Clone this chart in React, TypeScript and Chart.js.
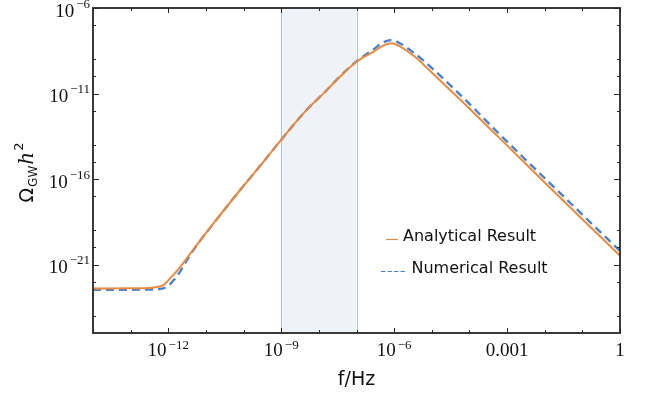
import { useEffect, useRef } from 'react';
import { Chart, registerables } from 'chart.js';

Chart.register(...registerables);

// ---- data (log10 values) ----
const seriesLabels = ['Analytical Result', 'Numerical Result'];

const analyticalLogF = [-14, -13, -12.5, -12.35, -12.13, -11.95, -11.68, -11.38, -10.8, -10.09, -9.65, -8.99, -8.41, -7.79, -7.44, -7.0, -6.55, -6.28, -6.06, -5.84, -5.4, -5.13, -4.2, -3.19, -2, -1, 0];
const analyticalLogOmega = [-22.4, -22.39, -22.37, -22.33, -22.2, -21.81, -21.13, -20.25, -18.59, -16.64, -15.47, -13.68, -12.16, -10.8, -10.02, -9.14, -8.56, -8.18, -8.06, -8.26, -8.94, -9.5, -11.45, -13.62, -16.2, -18.35, -20.48];

const numericalLogF = [-14, -13, -12.5, -12.31, -12.04, -11.78, -11.42, -11.2, -10.8, -10.09, -9.65, -8.99, -8.41, -7.79, -7.44, -7.0, -6.55, -6.28, -6.06, -5.84, -5.4, -5.13, -4.2, -3.19, -2, -1, 0];
const numericalLogOmega = [-22.47, -22.47, -22.46, -22.45, -22.3, -21.71, -20.44, -19.75, -18.6, -16.64, -15.47, -13.68, -12.16, -10.8, -10.0, -9.12, -8.42, -8.0, -7.87, -8.08, -8.75, -9.25, -11.17, -13.4, -15.95, -18.08, -20.2];

const xRange = [1e-14, 1];
const yRange = [1e-25, 1e-6];
const xTickValues = [1e-12, 1e-9, 1e-6, 1e-3, 1];
const xTickLabels = ['10^\u221212', '10^\u22129', '10^\u22126', '0.001', '1'];
const xMinorValues = [1e-14, 1e-13, 1e-11, 1e-10, 1e-8, 1e-7, 1e-5, 1e-4, 1e-2, 1e-1];
const yTickValues = [1e-6, 1e-11, 1e-16, 1e-21];
const yTickLabels = ['10^\u22126', '10^\u221211', '10^\u221216', '10^\u221221'];
const yMinorValues = [1e-7, 1e-9, 1e-10, 1e-12, 1e-14, 1e-15, 1e-17, 1e-19, 1e-20, 1e-22, 1e-24];
const bandRange = [1e-9, 1e-7];

const ORANGE = '#E98A3F';
const BLUE = '#4B82C8';

function toPoints(lf: number[], lo: number[]) {
  return lf.map((v, i) => ({ x: Math.pow(10, v), y: Math.pow(10, lo[i]) }));
}

function drawPower(ctx: CanvasRenderingContext2D, label: string, x: number, y: number, align: 'center' | 'right', expShift: number) {
  const parts = label.split('^');
  const base = parts[0];
  const exp = parts[1];
  const baseFont = '19px "Liberation Serif", serif';
  const expFont = '13px "Liberation Serif", serif';
  ctx.font = baseFont;
  const wb = ctx.measureText(base).width;
  let we = 0;
  if (exp) {
    ctx.font = expFont;
    we = ctx.measureText(exp).width + 2;
  }
  const total = wb + we;
  const sx = align === 'center' ? x - total / 2 : x - total;
  ctx.textAlign = 'left';
  ctx.textBaseline = 'alphabetic';
  ctx.font = baseFont;
  ctx.fillText(base, sx, y);
  if (exp) {
    ctx.font = expFont;
    ctx.fillText(exp, sx + wb + 2, y - expShift);
  }
}

const framePlugin = {
  id: 'framePlugin',
  beforeDatasetsDraw(chart: any) {
    const { ctx, chartArea, scales } = chart;
    const x0 = scales.x.getPixelForValue(bandRange[0]);
    const x1 = scales.x.getPixelForValue(bandRange[1]);
    ctx.save();
    ctx.fillStyle = '#EFF3F8';
    ctx.fillRect(x0, chartArea.top, x1 - x0, chartArea.bottom - chartArea.top);
    ctx.strokeStyle = '#AFC3DF';
    ctx.lineWidth = 1;
    ctx.beginPath();
    ctx.moveTo(Math.round(x0) + 0.5, chartArea.top);
    ctx.lineTo(Math.round(x0) + 0.5, chartArea.bottom);
    ctx.moveTo(Math.round(x1) + 0.5, chartArea.top);
    ctx.lineTo(Math.round(x1) + 0.5, chartArea.bottom);
    ctx.stroke();
    ctx.restore();
  },
  afterDraw(chart: any) {
    const { ctx, chartArea, scales } = chart;
    const { left, right, top, bottom } = chartArea;
    const xs = scales.x;
    const ys = scales.y;
    ctx.save();
    // frame
    ctx.strokeStyle = '#262626';
    ctx.lineWidth = 1.8;
    ctx.strokeRect(left, top, right - left, bottom - top);
    // ticks
    ctx.lineWidth = 1;
    ctx.beginPath();
    const xTick = (v: number, len: number) => {
      const p = Math.round(xs.getPixelForValue(v)) + 0.5;
      ctx.moveTo(p, bottom);
      ctx.lineTo(p, bottom - len);
      ctx.moveTo(p, top);
      ctx.lineTo(p, top + len);
    };
    const yTick = (v: number, len: number) => {
      const p = Math.round(ys.getPixelForValue(v)) + 0.5;
      ctx.moveTo(left, p);
      ctx.lineTo(left + len, p);
      ctx.moveTo(right, p);
      ctx.lineTo(right - len, p);
    };
    xTickValues.forEach((v) => xTick(v, 5));
    xMinorValues.forEach((v) => xTick(v, 3));
    yTickValues.forEach((v) => yTick(v, 6));
    yMinorValues.forEach((v) => yTick(v, 3));
    ctx.stroke();

    // tick labels
    ctx.fillStyle = '#111';
    xTickValues.forEach((v, i) => {
      drawPower(ctx, xTickLabels[i], xs.getPixelForValue(v), bottom + 23, 'center', 7);
    });
    yTickValues.forEach((v, i) => {
      drawPower(ctx, yTickLabels[i], left - 3, ys.getPixelForValue(v) + 8.5, 'right', 9);
    });

    // x title
    ctx.font = '19px "DejaVu Sans", sans-serif';
    ctx.textAlign = 'center';
    ctx.textBaseline = 'alphabetic';
    ctx.fillText('f/Hz', (left + right) / 2, 385);

    // y title (rotated)
    ctx.save();
    ctx.translate(33, 172);
    ctx.rotate(-Math.PI / 2);
    const partsY = [
      { t: '\u03A9', f: '19px "DejaVu Sans", sans-serif', dy: 0 },
      { t: 'GW', f: '12px "DejaVu Sans", sans-serif', dy: 4 },
      { t: 'h', f: 'italic 20px "DejaVu Serif", serif', dy: 0 },
      { t: '2', f: '13px "DejaVu Sans", sans-serif', dy: -10 },
    ];
    let tw = 0;
    partsY.forEach((p) => { ctx.font = p.f; tw += ctx.measureText(p.t).width + 1; });
    let cx = -tw / 2;
    ctx.textAlign = 'left';
    partsY.forEach((p) => {
      ctx.font = p.f;
      ctx.fillText(p.t, cx, p.dy);
      cx += ctx.measureText(p.t).width + 1;
    });
    ctx.restore();

    // legend
    ctx.font = '16px "DejaVu Sans", sans-serif';
    ctx.textAlign = 'left';
    ctx.textBaseline = 'middle';
    ctx.fillStyle = '#111';
    const lab = chart.data.datasets;
    ctx.strokeStyle = ORANGE;
    ctx.lineWidth = 1.2;
    ctx.beginPath();
    ctx.moveTo(386, 239.5);
    ctx.lineTo(398, 239.5);
    ctx.stroke();
    ctx.fillText(lab[0].label, 403, 237);
    ctx.strokeStyle = BLUE;
    ctx.setLineDash([4.5, 2]);
    ctx.beginPath();
    ctx.moveTo(381, 271.5);
    ctx.lineTo(407, 271.5);
    ctx.stroke();
    ctx.setLineDash([]);
    ctx.fillText(lab[1].label, 411.5, 269);
    ctx.restore();
  },
};

export default function App() {
  const ref = useRef<HTMLCanvasElement | null>(null);
  useEffect(() => {
    if (!ref.current) return;
    const chart = new Chart(ref.current, {
      type: 'line',
      data: {
        datasets: [
          {
            label: seriesLabels[0],
            data: toPoints(analyticalLogF, analyticalLogOmega),
            borderColor: ORANGE,
            borderWidth: 2,
            pointRadius: 0,
            cubicInterpolationMode: 'monotone',
            fill: false,
          },
          {
            label: seriesLabels[1],
            data: toPoints(numericalLogF, numericalLogOmega),
            borderColor: BLUE,
            borderWidth: 2.4,
            borderDash: [8, 5],
            pointRadius: 0,
            cubicInterpolationMode: 'monotone',
            fill: false,
          },
        ],
      },
      options: {
        responsive: false,
        animation: false,
        devicePixelRatio: 1,
        layout: { padding: { left: 93, right: 29, top: 8, bottom: 63 } },
        plugins: { legend: { display: false }, tooltip: { enabled: false } },
        scales: {
          x: { type: 'logarithmic', min: xRange[0], max: xRange[1], display: false },
          y: { type: 'logarithmic', min: yRange[0], max: yRange[1], display: false },
        },
      },
      plugins: [framePlugin],
    });
    return () => chart.destroy();
  }, []);
  return (
    <div style={{ position: 'fixed', left: 0, top: 0, width: 649, height: 396, background: '#fff' }}>
      <canvas ref={ref} width={649} height={396} style={{ width: 649, height: 396, display: 'block' }} />
    </div>
  );
}
